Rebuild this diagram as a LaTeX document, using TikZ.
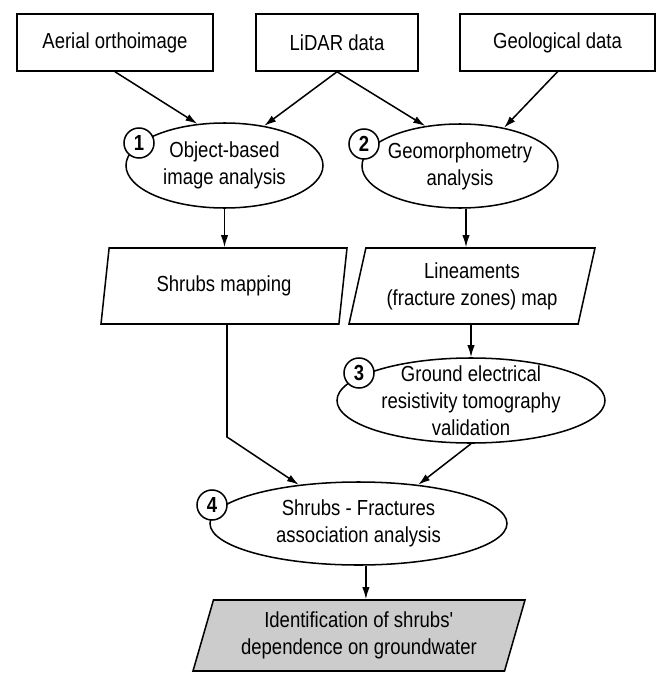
\documentclass[tikz,border=0pt]{standalone}
\usepackage{fontspec}
\setmainfont{Liberation Sans}[FakeStretch=0.85]
\usetikzlibrary{shapes.geometric,arrows.meta}

\tikzset{
		main/.style={black, line width=1.3pt},
		txt/.style={font=\fontsize{18.6}{23}\selectfont},
		box/.style={main, draw, rectangle, minimum height=1.71cm, inner sep=2pt},
		oval/.style={main, draw, ellipse, inner sep=-1cm, align=center},
		slant/.style={main, draw, trapezium, trapezium left angle=72, trapezium right angle=108, trapezium stretches body, minimum width=7.38cm, minimum height=2.28cm, inner sep=2pt, align=center},
		num/.style={main, draw, circle, fill=white, minimum size=0.9cm, inner sep=0pt, font=\fontsize{18.6}{23}\selectfont\bfseries},
		arrow/.style={main, -{Latex[length=3.6mm,width=2.2mm]}}
	}

\begin{document}
\begin{tikzpicture}[x=0.03cm, y=-0.03cm, txt]
	
	\useasboundingbox (0,0) rectangle (659,673);
	
	\node (aerial) at (115,42.5) [box, minimum width=5.88cm] {Aerial orthoimage};
	\node (lidar) at (337,42.5) [box, minimum width=4.86cm] {LiDAR data};
	\node (geo) at (557.5,42.5) [box, minimum width=5.85cm] {Geological data};
	
	\node (obia) at (224.5,165.5) [oval, minimum width=5.91cm, minimum height=2.55cm] {Object-based\\image analysis};
	\node (geom) at (460,166) [oval, minimum width=5.88cm, minimum height=2.52cm] {Geomorphometry\\analysis};
	
	\node (shrubs) at (224,286) [slant] {Shrubs mapping};
	\node (lin) at (472,286) [slant] {Lineaments\\(fracture zones) map};
	
	\node (ert) at (471,400.5) [oval, minimum width=8.04cm, minimum height=2.55cm] {Ground electrical\\resistivity tomography\\validation};
	\node (assoc) at (358.5,523.5) [oval, minimum width=8.91cm, minimum height=2.49cm] {Shrubs - Fractures\\association analysis};
	
	\node (ident) at (359,635.5) [slant, fill=gray!40, trapezium left angle=68.5, trapezium right angle=111.5, minimum width=9.96cm, minimum height=2.13cm] {Identification of shrubs\textquotesingle\\dependence on groundwater};
	
	\node (n1) at (139,143) [num] {1};
	\node (n2) at (364,144) [num] {2};
	\node (n3) at (359,373) [num] {3};
	\node (n4) at (212,505) [num] {4};
	
	\draw [arrow] (aerial.south) -- (obia.123);
	\draw [arrow] (lidar.south) -- (obia.45);
	\draw [arrow] (lidar.south) -- (geom.131);
	\draw [arrow] (geo.south) -- (geom.41);
	
	\draw [arrow] (obia.south) -- (obia.south |- shrubs.north);
	\draw [arrow] (geom.-82) -- (geom.-82 |- lin.north);
	\draw [arrow] (lin.south -| ert.north) -- (ert.north);
	
	\coordinate (bend) at (227,437);
	\draw [arrow] (shrubs.south -| bend) -- (bend) -- (assoc.147);
	\draw [arrow] (ert.south) -- (assoc.33);
	\draw [arrow] (assoc.-80) -- (assoc.-80 |- ident.north);
	
\end{tikzpicture}
\end{document}
